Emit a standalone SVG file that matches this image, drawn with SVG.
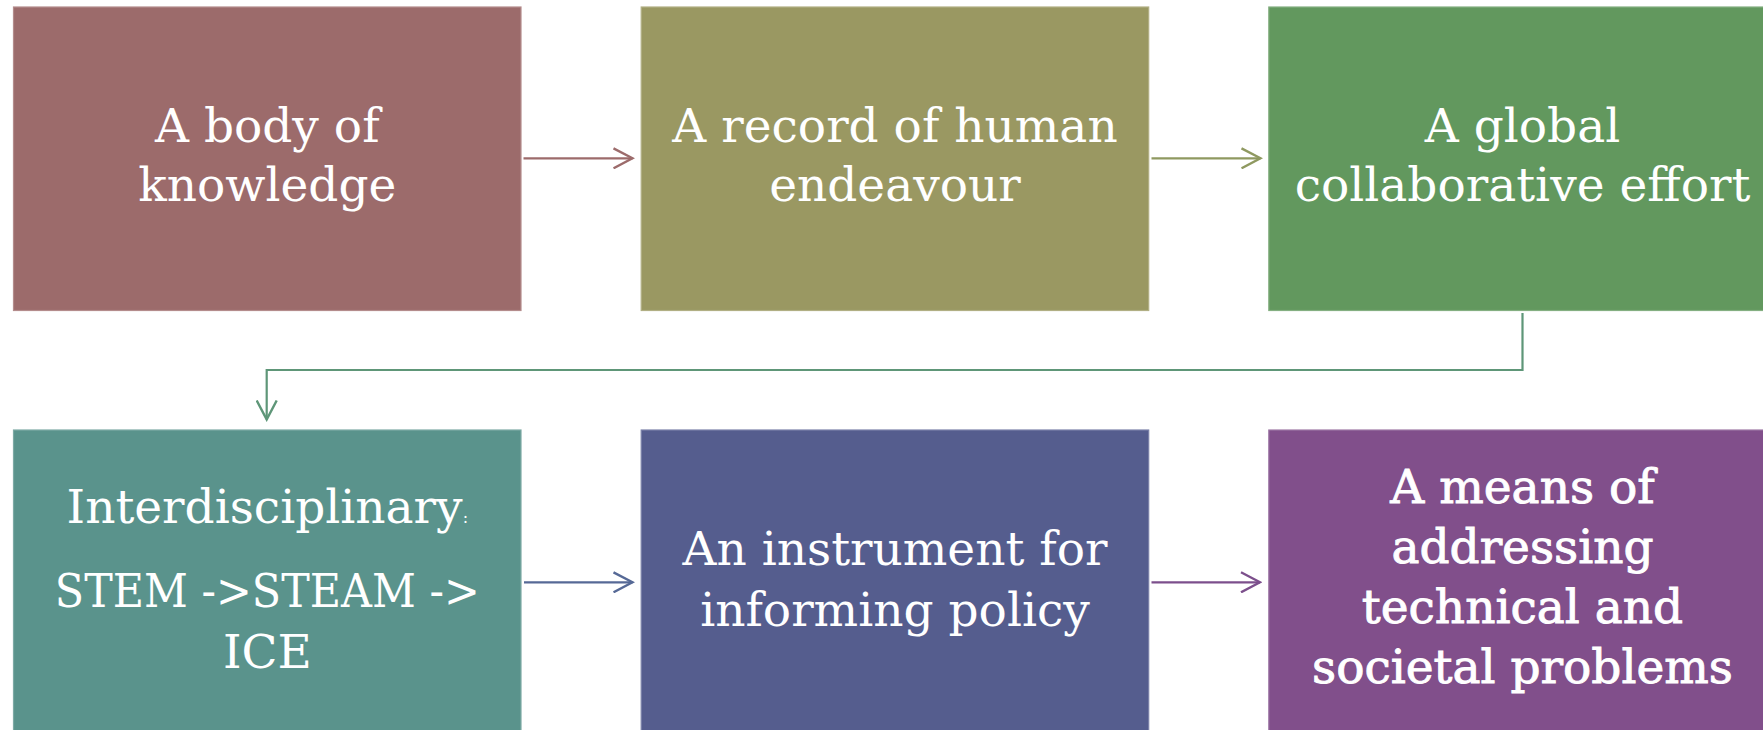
<svg xmlns="http://www.w3.org/2000/svg" width="1763" height="730" viewBox="0 0 1763 730">
<style>
.box{stroke-width:1.2}
.t{font-family:"DejaVu Serif","Liberation Serif",serif;font-size:47px;fill:#ffffff;text-anchor:middle}
.b{stroke:#ffffff;stroke-width:0.9}
.c{fill:none;stroke-width:2.2}
</style>
<defs>
<marker id="a1" viewBox="0 0 22 22" refX="20" refY="11" markerUnits="userSpaceOnUse" markerWidth="22" markerHeight="22" orient="auto"><path d="M1,1 L20,11 L1,21" fill="none" stroke="#9C6B6B" stroke-width="2.4"/></marker>
<marker id="a2" viewBox="0 0 22 22" refX="20" refY="11" markerUnits="userSpaceOnUse" markerWidth="22" markerHeight="22" orient="auto"><path d="M1,1 L20,11 L1,21" fill="none" stroke="#8F9960" stroke-width="2.4"/></marker>
<marker id="a3" viewBox="0 0 22 22" refX="20" refY="11" markerUnits="userSpaceOnUse" markerWidth="22" markerHeight="22" orient="auto"><path d="M1,1 L20,11 L1,21" fill="none" stroke="#5E9678" stroke-width="2.4"/></marker>
<marker id="a4" viewBox="0 0 22 22" refX="20" refY="11" markerUnits="userSpaceOnUse" markerWidth="22" markerHeight="22" orient="auto"><path d="M1,1 L20,11 L1,21" fill="none" stroke="#566996" stroke-width="2.4"/></marker>
<marker id="a5" viewBox="0 0 22 22" refX="20" refY="11" markerUnits="userSpaceOnUse" markerWidth="22" markerHeight="22" orient="auto"><path d="M1,1 L20,11 L1,21" fill="none" stroke="#7C4F8C" stroke-width="2.4"/></marker>
</defs>
<rect width="1763" height="730" fill="#ffffff"/>
<g id="n1">
<rect class="box" x="13.5" y="7" width="507.5" height="303.5" fill="#9C6B6B" stroke="#B48C8C"/>
<text class="t" x="267.3" y="142">A body of</text>
<text class="t" x="267.3" y="201">knowledge</text>
</g>
<g id="n2">
<rect class="box" x="641.2" y="7" width="507.5" height="303.5" fill="#9A9862" stroke="#B1AF84"/>
<text class="t" x="895" y="142">A record of human</text>
<text class="t" x="895" y="201">endeavour</text>
</g>
<g id="n3">
<rect class="box" x="1268.8" y="7" width="507.5" height="303.5" fill="#62985E" stroke="#84AF81"/>
<text class="t" x="1522.5" y="142">A global</text>
<text class="t" x="1522.5" y="201">collaborative effort</text>
</g>
<g id="n4">
<rect class="box" x="13.5" y="430" width="507.5" height="303.5" fill="#5A938C" stroke="#7DAAA5"/>
<text class="t" x="267.3" y="523.3">Interdisciplinary<tspan font-size="16">:</tspan></text>
<text class="t" x="267.3" y="606.7" textLength="425" lengthAdjust="spacingAndGlyphs">STEM -&gt;STEAM -&gt;</text>
<text class="t" x="267.3" y="668.3">ICE</text>
</g>
<g id="n5">
<rect class="box" x="641.2" y="430" width="507.5" height="303.5" fill="#555D8E" stroke="#7A80A8"/>
<text class="t" x="895" y="565">An instrument for</text>
<text class="t" x="895" y="626">informing policy</text>
</g>
<g id="n6">
<rect class="box" x="1268.8" y="430" width="507.5" height="303.5" fill="#814F8B" stroke="#9D77A5"/>
<text class="t b" x="1522.5" y="503.3">A means of</text>
<text class="t b" x="1522.5" y="563.3">addressing</text>
<text class="t b" x="1522.5" y="623.3">technical and</text>
<text class="t b" x="1522.5" y="683.3">societal problems</text>
</g>
<g id="connectors">
<path class="c" d="M523.5,158.3 H632.5" stroke="#9C6B6B" marker-end="url(#a1)"/>
<path class="c" d="M1151.5,158.3 H1260.5" stroke="#8F9960" marker-end="url(#a2)"/>
<path class="c" d="M1522.5,313 V370 H266.7 V419.5" stroke="#5E9678" marker-end="url(#a3)"/>
<path class="c" d="M524,582.3 H632.5" stroke="#566996" marker-end="url(#a4)"/>
<path class="c" d="M1151.5,582.3 H1260" stroke="#7C4F8C" marker-end="url(#a5)"/>
</g>
</svg>
